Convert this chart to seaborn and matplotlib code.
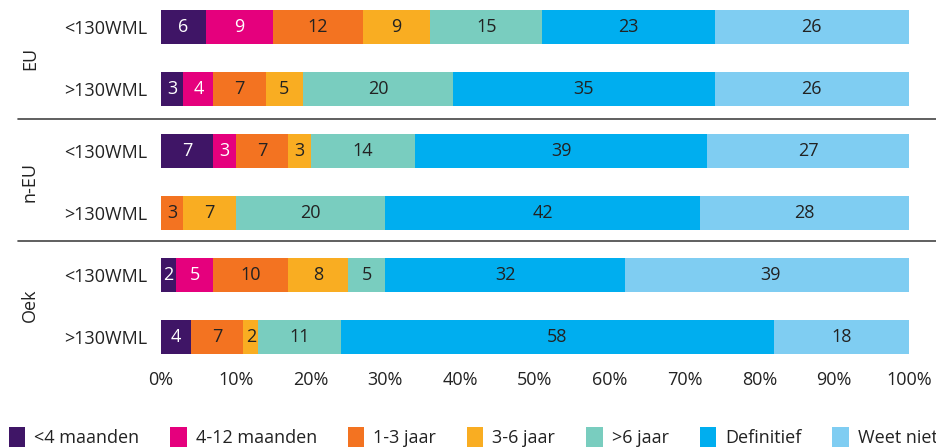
import numpy as np
import pandas as pd
import matplotlib.pyplot as plt
from matplotlib.lines import Line2D
from matplotlib.patches import Patch
import seaborn as sns

# Data
groups = ['EU', 'EU', 'n-EU', 'n-EU', 'Oek', 'Oek']
incomes = ['<130WML', '>130WML', '<130WML', '>130WML', '<130WML', '>130WML']
categories = ['<4 maanden', '4-12 maanden', '1-3 jaar', '3-6 jaar', '>6 jaar', 'Definitief', 'Weet niet']
colors = ['#3f1566', '#e5007d', '#f37321', '#f9ad22', '#79cdbf', '#00aeef', '#7fcdf2']
text_colors = ['white', 'white', '#222222', '#222222', '#222222', '#222222', '#222222']

v_lt4m = [6, 3, 7, 0, 2, 4]
v_4_12m = [9, 4, 3, 0, 5, 0]
v_1_3j = [12, 7, 7, 3, 10, 7]
v_3_6j = [9, 5, 3, 7, 8, 2]
v_gt6j = [15, 20, 14, 20, 5, 11]
v_definitief = [23, 35, 39, 42, 32, 58]
v_weetniet = [26, 26, 27, 28, 39, 18]

values = np.array([v_lt4m, v_4_12m, v_1_3j, v_3_6j, v_gt6j, v_definitief, v_weetniet]).T
cum = values.cumsum(axis=1)
row_ids = [f'{g} {i}' for g, i in zip(groups, incomes)]

sns.set_theme(style='white')
plt.rcParams['font.family'] = ['Open Sans', 'DejaVu Sans']

fig = plt.figure(figsize=(9.37, 4.47), dpi=100)
ax = fig.add_axes([161 / 937, 1 - 365 / 447, 748 / 937, 365 / 447])

# stacked bars: draw cumulative totals from last to first
for i in range(len(categories) - 1, -1, -1):
    df = pd.DataFrame({'row': row_ids, 'value': cum[:, i]})
    sns.barplot(data=df, x='value', y='row', color=colors[i], width=0.55,
                orient='h', saturation=1, linewidth=0, edgecolor='none', ax=ax)

# value labels
for r in range(len(row_ids)):
    for i in range(len(categories)):
        v = values[r, i]
        if v > 0:
            ax.text(cum[r, i] - v / 2, r, str(v), ha='center', va='center',
                    fontsize=13, color=text_colors[i])

ax.set_xlim(0, 100)
ax.set_ylim(5.45, -0.435)
ax.set_xticks(np.arange(0, 101, 10))
ax.set_xticklabels([f'{t}%' for t in range(0, 101, 10)], fontsize=13, color='#222222')
ax.set_yticks(range(len(row_ids)))
ax.set_yticklabels(incomes, fontsize=13, color='#222222')
ax.tick_params(axis='y', pad=10, length=0)
ax.tick_params(axis='x', pad=4, length=0)
ax.set_xlabel('')
ax.set_ylabel('')
sns.despine(ax=ax, left=True, bottom=True)

# group labels and separators
for name, ypix in [('EU', 58), ('n-EU', 182), ('Oek', 305)]:
    fig.text(30 / 937, 1 - ypix / 447, name, rotation=90, ha='center', va='center',
             fontsize=13, color='#222222')
for ypix in [119, 241]:
    fig.add_artist(Line2D([18 / 937, 1.0], [1 - ypix / 447] * 2, color='#444444', lw=1.2))

# legend
handles = [Patch(facecolor=c, edgecolor='none') for c in colors]
fig.legend(handles, categories, loc='center', bbox_to_anchor=(0.505, 1 - 437 / 447),
           ncol=7, frameon=False, fontsize=13, handlelength=0.9, handleheight=1.4,
           handletextpad=0.5, columnspacing=1.72, labelcolor='#222222')

fig.savefig('out.png', dpi=100)
